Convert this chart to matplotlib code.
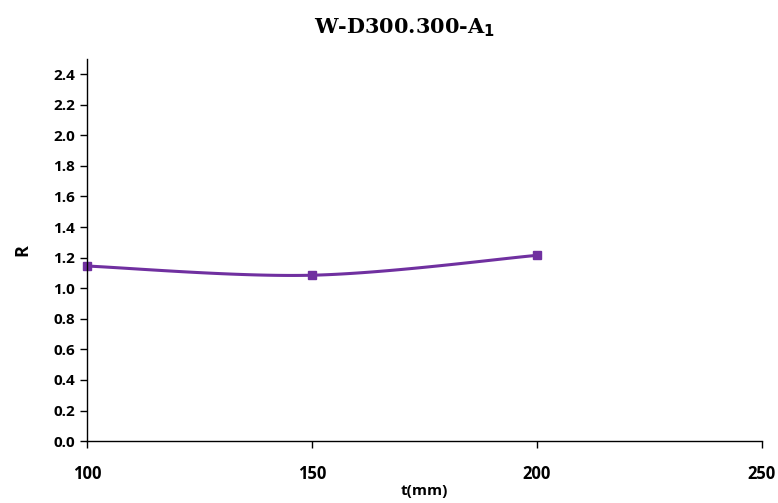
import matplotlib.pyplot as plt
import numpy as np

t = [100, 150, 200]
r = [1.145, 1.085, 1.215]

x_ticks = [100, 150, 200, 250]
y_ticks = np.round(np.arange(0, 2.41, 0.2), 1)

# Excel-like smoothed line: cubic bezier through the points
def smooth(xs, ys, n=50):
    xs = np.asarray(xs, float)
    ys = np.asarray(ys, float)
    px = np.concatenate([[xs[0]], xs, [xs[-1]]])
    py = np.concatenate([[ys[0]], ys, [ys[-1]]])
    outx, outy = [], []
    s = np.linspace(0, 1, n)
    for i in range(1, len(px) - 2):
        p0 = np.array([px[i], py[i]])
        p3 = np.array([px[i + 1], py[i + 1]])
        p1 = p0 + (np.array([px[i + 1], py[i + 1]]) - np.array([px[i - 1], py[i - 1]])) / 6
        p2 = p3 - (np.array([px[i + 2], py[i + 2]]) - np.array([px[i], py[i]])) / 6
        b = ((1 - s) ** 3)[:, None] * p0 + (3 * (1 - s) ** 2 * s)[:, None] * p1 \
            + (3 * (1 - s) * s ** 2)[:, None] * p2 + (s ** 3)[:, None] * p3
        outx.extend(b[:, 0])
        outy.extend(b[:, 1])
    return outx, outy

color = "#7030A0"
fig = plt.figure(figsize=(7.78, 5.03), dpi=100)
ax = fig.add_axes([0.1118, 0.123, 0.8676, 0.76])

sx, sy = smooth(t, r)
ax.plot(sx, sy, color=color, lw=2.2, clip_on=False)
ax.plot(t, r, "s", color=color, ms=6, clip_on=False)

ax.set_xlim(100, 250)
ax.set_ylim(0, 2.5)
ax.set_xticks(x_ticks)
ax.set_yticks(y_ticks)
ax.set_yticklabels([f"{v:.1f}" for v in y_ticks])
for sp in ["top", "right"]:
    ax.spines[sp].set_visible(False)
for sp in ["left", "bottom"]:
    ax.spines[sp].set_color("black")
    ax.spines[sp].set_linewidth(1)
ax.tick_params(direction="out", length=5, width=1)
ax.tick_params(axis="x", pad=12)
for lab in ax.get_xticklabels():
    lab.set_fontfamily("Open Sans")
    lab.set_fontweight("bold")
    lab.set_fontsize(12)
for lab in ax.get_yticklabels():
    lab.set_fontfamily("Open Sans")
    lab.set_fontweight("bold")
    lab.set_fontsize(11)

ax.set_xlabel("t(mm)", fontfamily="Open Sans", fontweight="bold", fontsize=11, labelpad=1)
ax.set_ylabel("R", fontfamily="Open Sans", fontweight="bold", fontsize=13, labelpad=16)
fig.text(0.52, 0.945, r"W-D300.300-A$_\mathbf{1}$", ha="center", va="center",
         fontfamily="DejaVu Serif", fontweight="bold", fontsize=15)

fig.savefig("out.png", dpi=100)
